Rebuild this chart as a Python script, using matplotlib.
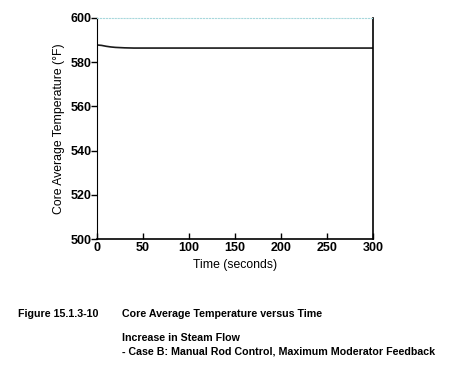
import matplotlib.pyplot as plt

time_s = [0, 5, 10, 15, 20, 25, 30, 40, 60, 100, 150, 200, 250, 300]
core_avg_temp = [587.8, 587.6, 587.2, 586.9, 586.7, 586.6, 586.5, 586.4,
                 586.4, 586.4, 586.4, 586.4, 586.4, 586.4]

plt.rcParams['font.family'] = ['Liberation Sans', 'DejaVu Sans']

fig = plt.figure(figsize=(4.56, 3.78), dpi=100)
ax = fig.add_axes([97 / 456, 1 - 239 / 378, 276 / 456, 221 / 378])

ax.plot(time_s, core_avg_temp, color="#1a1a1a", linewidth=1.2)

ax.set_xlim(0, 300)
ax.set_ylim(500, 600)
ax.set_xticks(range(0, 301, 50))
ax.set_yticks(range(500, 601, 20))
ax.tick_params(axis="x", direction="in", length=4, width=1, pad=2, labelsize=9)
ax.tick_params(axis="y", direction="out", length=4, width=1, pad=0, labelsize=9)
for lab in ax.get_xticklabels() + ax.get_yticklabels():
    lab.set_fontweight("bold")

ax.spines["top"].set_color("#a8d8dc")
ax.spines["top"].set_linestyle(":")
ax.spines["left"].set_linewidth(0.8)
ax.spines["right"].set_linewidth(1.2)
ax.spines["bottom"].set_linewidth(1.2)

ax.set_xlabel("Time (seconds)", fontsize=8.8, labelpad=4)
ax.set_ylabel("Core Average Temperature (\u00b0F)", fontsize=8.8, labelpad=4)

cap = 7.7
fig.text(18 / 456, 1 - 314 / 378, "Figure 15.1.3-10", fontsize=cap,
         fontweight="bold", va="center")
fig.text(122 / 456, 1 - 314 / 378, "Core Average Temperature versus Time",
         fontsize=cap, fontweight="bold", va="center")
fig.text(122 / 456, 1 - 338 / 378, "Increase in Steam Flow", fontsize=cap,
         fontweight="bold", va="center")
fig.text(122 / 456, 1 - 351 / 378,
         "- Case B: Manual Rod Control, Maximum Moderator Feedback",
         fontsize=cap, fontweight="bold", va="center")

fig.savefig("out.png", dpi=100)
